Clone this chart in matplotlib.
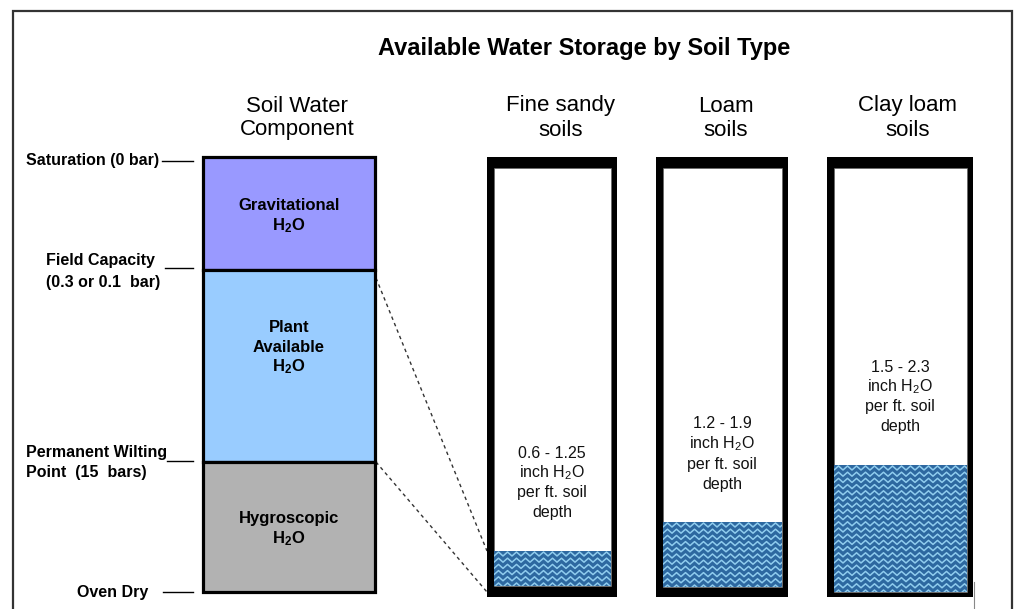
import matplotlib
matplotlib.use("Agg")
import matplotlib.pyplot as plt
from matplotlib.patches import Rectangle
import numpy as np

plt.rcParams['font.family'] = ['Liberation Sans', 'DejaVu Sans']
plt.rcParams['mathtext.fontset'] = 'custom'
plt.rcParams['mathtext.rm'] = 'Liberation Sans'
plt.rcParams['mathtext.bf'] = 'Liberation Sans:bold'
plt.rcParams['mathtext.it'] = 'Liberation Sans:italic'

# ---------------- data ----------------
title = "Available Water Storage by Soil Type"
component_header = ["Soil Water", "Component"]
level_labels = [["Saturation (0 bar)"],
                ["Field Capacity", "(0.3 or 0.1  bar)"],
                ["Permanent Wilting", "Point  (15  bars)"],
                ["Oven Dry"]]
level_depths = [157, 270, 462, 592]          # diagram scale (top -> bottom)
H2O_B = r"H$_\mathbf{2}$O"
H2O = r"H$_2$O"
components = [["Gravitational", H2O_B],
              ["Plant", "Available", H2O_B],
              ["Hygroscopic", H2O_B]]
component_colors = ["#9999FF", "#99CCFF", "#B2B2B2"]
soil_names = [["Fine sandy", "soils"], ["Loam", "soils"], ["Clay loam", "soils"]]
soil_ranges = ["0.6 - 1.25", "1.2 - 1.9", "1.5 - 2.3"]
water_levels = [551, 522, 465]               # diagram scale, top of stored water

# ---------------- layout ----------------
W, H = 1014, 609
fig = plt.figure(figsize=(W / 100, H / 100), dpi=100)
ax = fig.add_axes([0, 0, 1, 1])
ax.set_xlim(0, W)
ax.set_ylim(H, 0)
ax.axis("off")

def multiline(x, y0, lines, step=20, **kw):
    for i, s in enumerate(lines):
        ax.text(x, y0 + i * step, s, va="center", **kw)

# frame
ax.plot([13, 13, 1012, 1012], [H, 11, 11, H], color="#333333", lw=1.6,
        solid_joinstyle="miter")

# title & headers
ax.text(584, 48, title, ha="center", va="center", fontsize=17, fontweight="bold")
multiline(297, 106, component_header, step=24, ha="center", fontsize=16)
soil_header_x = [561, 726, 908]
for x, nm in zip(soil_header_x, soil_names):
    multiline(x, 106, nm, step=24, ha="center", fontsize=16)

# left stacked column
cx0, cx1 = 203, 375
comp_text_y = [206, 327, 519]
for i, (lab, col) in enumerate(zip(components, component_colors)):
    top, bot = level_depths[i], level_depths[i + 1]
    ax.add_patch(Rectangle((cx0, top), cx1 - cx0, bot - top, facecolor=col,
                           edgecolor="black", lw=2.3, zorder=2))
    multiline((cx0 + cx1) / 2, comp_text_y[i], lab,
              ha="center", fontsize=12, fontweight="bold", zorder=3)

# level labels with leader lines
label_x = [26, 46, 26, 77]
label_line_y = [161, 268, 461, 592]
label_text_y = [160, 261, 452, 593]
line_x0 = [162, 165, 167, 163]
for lab, lx, ly, ty, x0 in zip(level_labels, label_x, label_line_y, label_text_y, line_x0):
    multiline(lx, ty, lab, step=21, ha="left", fontsize=11.5, fontweight="bold")
    ax.plot([x0, 193], [ly, ly], color="black", lw=1.0)

# soil columns
col_x = [(487, 617), (656, 788), (827, 973)]
col_top, inner_top, outer_bot = 157, 168, 597
inner_bot = [586, 587, 592]
wall = 6.5
water_dark = "#2D68A0"
water_light = "#8FCCEE"
for (x0, x1), wl, ib, rng in zip(col_x, water_levels, inner_bot, soil_ranges):
    ax.add_patch(Rectangle((x0, col_top), x1 - x0, outer_bot - col_top,
                           facecolor="black", edgecolor="none", zorder=2))
    ix0, ix1 = x0 + wall, x1 - wall
    ax.add_patch(Rectangle((ix0, inner_top), ix1 - ix0, ib - inner_top,
                           facecolor="white", edgecolor="#666666", lw=0.5, zorder=3))
    wp = Rectangle((ix0, wl), ix1 - ix0, ib - wl, facecolor=water_dark,
                   edgecolor="none", zorder=4)
    ax.add_patch(wp)
    xs = np.arange(ix0 - 4, ix1 + 6, 4.5)
    zig = np.where(np.arange(len(xs)) % 2 == 0, -2.0, 2.0)
    for yr in np.arange(wl + 3, ib + 4, 6.2):
        ln, = ax.plot(xs, yr + zig, color=water_light, lw=1.1, zorder=5)
        ln.set_clip_path(wp)
    cx = (x0 + x1) / 2
    multiline(cx, wl - 98, [rng, "inch " + H2O, "per ft. soil", "depth"],
              ha="center", fontsize=11.5, color="#111111", zorder=6)

# dashed connectors from plant-available band to first soil's water
fx0 = col_x[0][0]
ax.plot([cx1 + 1, fx0], [level_depths[1] + 8, water_levels[0]], color="#333333",
        lw=1.0, ls=(0, (2.5, 2.5)), zorder=1)
ax.plot([cx1 + 1, fx0], [level_depths[2], inner_bot[0] + 6], color="#333333",
        lw=1.0, ls=(0, (2.5, 2.5)), zorder=1)

# small stray line at bottom right
ax.plot([973.5, 973.5], [582, H], color="#888888", lw=0.8, zorder=1)

fig.savefig("out.png", dpi=100)
